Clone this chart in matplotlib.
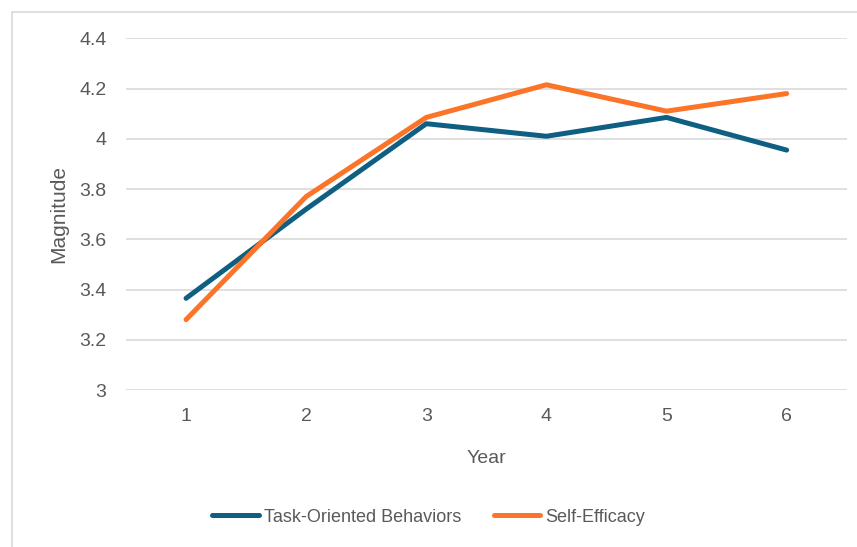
import matplotlib
matplotlib.use("Agg")
import matplotlib.pyplot as plt
from matplotlib.patches import Rectangle

# ─── DONNÉES ──────────────────────────────────────────────────────────────────
years = [1, 2, 3, 4, 5, 6]
task_oriented = [3.365, 3.72, 4.06, 4.01, 4.085, 3.955]
self_efficacy = [3.28, 3.77, 4.085, 4.215, 4.11, 4.18]
y_ticks = [3, 3.2, 3.4, 3.6, 3.8, 4, 4.2, 4.4]
y_tick_labels = ["3", "3.2", "3.4", "3.6", "3.8", "4", "4.2", "4.4"]

BLUE = "#0E5F82"
ORANGE = "#FB7428"
GRAY_TXT = "#595959"

plt.rcParams['font.family'] = ['Liberation Sans', 'DejaVu Sans']

fig = plt.figure(figsize=(8.57, 5.47), dpi=100)
ax = fig.add_axes([0.147, 0.287, 0.841, 0.643])

# cadre du graphique (style Excel)
fig.patches.append(Rectangle((12 / 857, -0.05), 1.2, (547 - 12) / 547 + 0.05,
                             transform=fig.transFigure, fill=False,
                             edgecolor="#D9D9D9", linewidth=1.2))

ax.plot(years, task_oriented, color=BLUE, linewidth=3.6,
        solid_capstyle='round', solid_joinstyle='round', label="Task-Oriented Behaviors")
ax.plot(years, self_efficacy, color=ORANGE, linewidth=3.6,
        solid_capstyle='round', solid_joinstyle='round', label="Self-Efficacy")

ax.set_xlim(0.5, 6.5)
ax.set_ylim(3, 4.4)
ax.set_yticks(y_ticks)
ax.set_yticklabels(y_tick_labels)
ax.set_xticks(years)
ax.set_xticklabels([str(y) for y in years])
ax.grid(axis='y', color="#D9D9D9", linewidth=1.2)
ax.set_axisbelow(True)
for s in ax.spines.values():
    s.set_visible(False)
ax.tick_params(length=0, labelsize=14, colors=GRAY_TXT)
ax.tick_params(axis='y', pad=14)
ax.tick_params(axis='x', pad=13)

ax.set_xlabel("Year", fontsize=14, color=GRAY_TXT, labelpad=18)
ax.set_ylabel("Magnitude", fontsize=15, color=GRAY_TXT, labelpad=8)

leg = fig.legend(loc='center', bbox_to_anchor=(0.5, 1 - 517 / 547), ncol=2, frameon=False,
                 fontsize=13, handlelength=2.6, handletextpad=0.28, columnspacing=1.8)
for t in leg.get_texts():
    t.set_color(GRAY_TXT)

fig.savefig("out.png", dpi=100, facecolor="white")
